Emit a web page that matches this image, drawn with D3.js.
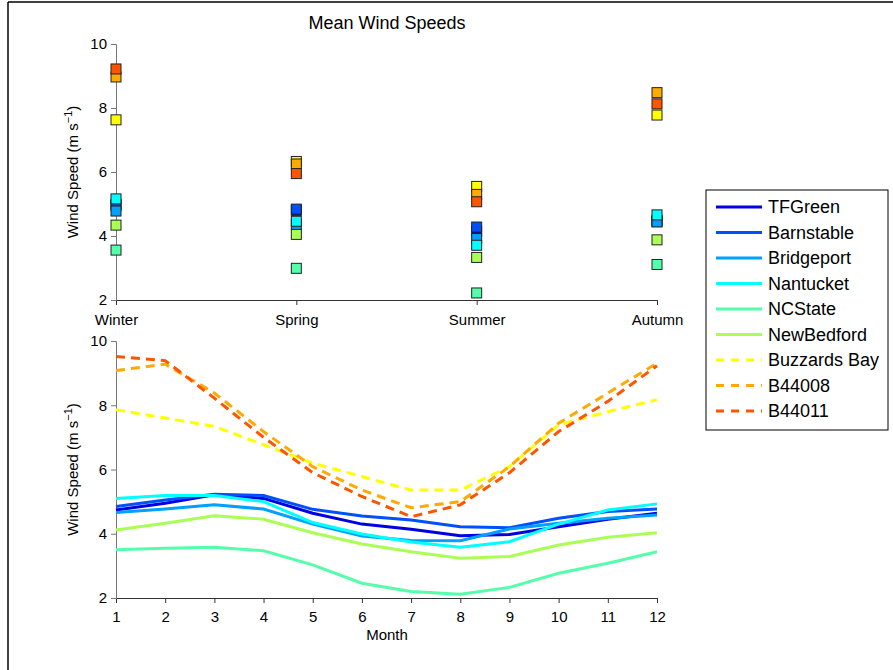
<!DOCTYPE html>
<html>
<head>
<meta charset="utf-8">
<script src="https://cdn.jsdelivr.net/npm/d3@7"></script>
<style>
  html, body { margin: 0; padding: 0; background: #fff; }
  svg { display: block; font-family: "Liberation Sans", Arial, Helvetica, sans-serif; }
</style>
</head>
<body>
<svg id="chart" width="893" height="670"></svg>
<script>
// Station names, colours and line styles
const stations = ["TFGreen", "Barnstable", "Bridgeport", "Nantucket", "NCState", "NewBedford", "Buzzards Bay", "B44008", "B44011"];
const colors = ["#0000e0", "#0050ff", "#00a0ff", "#00ffff", "#55ffaa", "#aaff55", "#ffff00", "#ffaa00", "#ff5500"];
const dashed = [false, false, false, false, false, false, true, true, true];

// Seasonal means (m/s), one array per station: Winter, Spring, Summer, Autumn
const seasons = ["Winter", "Spring", "Summer", "Autumn"];
const seasonTFGreen    = [4.95, 4.80, 4.15, 4.45];
const seasonBarnstable = [5.00, 4.84, 4.28, 4.50];
const seasonBridgeport = [4.78, 4.36, 3.92, 4.44];
const seasonNantucket  = [5.16, 4.46, 3.71, 4.66];
const seasonNCState    = [3.56, 2.99, 2.22, 3.11];
const seasonNewBedford = [4.34, 4.05, 3.33, 3.88];
const seasonBuzzards   = [7.63, 6.33, 5.55, 7.78];
const seasonB44008     = [8.97, 6.25, 5.30, 8.48];
const seasonB44011     = [9.22, 5.95, 5.07, 8.13];
const seasonal = [seasonTFGreen, seasonBarnstable, seasonBridgeport, seasonNantucket,
                  seasonNCState, seasonNewBedford, seasonBuzzards, seasonB44008, seasonB44011];

// Monthly means (m/s), months 1..12
const months = [1, 2, 3, 4, 5, 6, 7, 8, 9, 10, 11, 12];
const monthTFGreen    = [4.74, 4.95, 5.21, 5.10, 4.64, 4.30, 4.14, 3.94, 3.98, 4.22, 4.45, 4.64];
const monthBarnstable = [4.85, 5.05, 5.23, 5.19, 4.76, 4.55, 4.43, 4.22, 4.19, 4.48, 4.69, 4.77];
const monthBridgeport = [4.66, 4.77, 4.90, 4.77, 4.30, 3.93, 3.79, 3.78, 4.15, 4.33, 4.48, 4.58];
const monthNantucket  = [5.10, 5.19, 5.19, 5.00, 4.35, 3.99, 3.74, 3.58, 3.75, 4.30, 4.74, 4.93];
const monthNCState    = [3.50, 3.55, 3.58, 3.47, 3.03, 2.46, 2.20, 2.12, 2.33, 2.77, 3.08, 3.44];
const monthNewBedford = [4.12, 4.33, 4.56, 4.45, 4.03, 3.68, 3.44, 3.24, 3.29, 3.65, 3.89, 4.03];
const monthBuzzards   = [7.86, 7.60, 7.34, 6.77, 6.20, 5.78, 5.36, 5.36, 6.09, 7.39, 7.80, 8.17];
const monthB44008     = [9.08, 9.28, 8.38, 7.18, 6.09, 5.36, 4.81, 5.00, 6.09, 7.44, 8.38, 9.31];
const monthB44011     = [9.52, 9.39, 8.22, 7.00, 5.90, 5.16, 4.53, 4.90, 5.90, 7.18, 8.12, 9.23];
const monthly = [monthTFGreen, monthBarnstable, monthBridgeport, monthNantucket,
                 monthNCState, monthNewBedford, monthBuzzards, monthB44008, monthB44011];

const yTicks = [2, 4, 6, 8, 10];

const svg = d3.select("#chart");

// Figure frame (top and left edges)
svg.append("line").attr("x1", 8).attr("x2", 893).attr("y1", 2).attr("y2", 2)
  .attr("stroke", "#000").attr("stroke-width", 1.5);
svg.append("line").attr("x1", 8).attr("x2", 8).attr("y1", 2).attr("y2", 670)
  .attr("stroke", "#000").attr("stroke-width", 1.5);

const left = 116, right = 657;

function styleAxis(g, lineColor) {
  g.selectAll("path").attr("stroke", lineColor).attr("stroke-width", 1);
  g.selectAll("line").attr("stroke", lineColor);
  g.selectAll("text").attr("fill", "#000").attr("font-size", 15)
    .attr("font-family", "'Liberation Sans', Arial, sans-serif");
}

function yLabel(cy) {
  const t = svg.append("text")
    .attr("transform", `translate(78,${cy}) rotate(-90)`)
    .attr("text-anchor", "middle")
    .attr("font-size", 15);
  t.append("tspan").text("Wind Speed (m s");
  t.append("tspan").attr("dy", -6).attr("font-size", 11).text("−1");
  t.append("tspan").attr("dy", 6).text(")");
}

// ---------- Top panel: seasonal means ----------
const topY0 = 300, topY1 = 44;
const xS = d3.scalePoint().domain(seasons).range([left, right]);
const yT = d3.scaleLinear().domain([2, 10]).range([topY0, topY1]);

const gxT = svg.append("g").attr("transform", `translate(0,${topY0})`)
  .call(d3.axisBottom(xS).tickSizeOuter(0).tickSize(5).tickPadding(9));
styleAxis(gxT, "#333");
const gyT = svg.append("g").attr("transform", `translate(${left},0)`)
  .call(d3.axisLeft(yT).tickValues(yTicks).tickSizeOuter(0).tickSize(5).tickPadding(4));
styleAxis(gyT, "#777");

svg.append("text").attr("x", 387).attr("y", 29).attr("text-anchor", "middle")
  .attr("font-size", 18).text("Mean Wind Speeds");
yLabel((topY0 + topY1) / 2);

const sq = 10;
seasonal.forEach((vals, i) => {
  svg.append("g").selectAll("rect").data(vals).join("rect")
    .attr("x", (d, j) => xS(seasons[j]) - sq / 2)
    .attr("y", d => yT(d) - sq / 2)
    .attr("width", sq).attr("height", sq)
    .attr("fill", colors[i])
    .attr("stroke", "#222").attr("stroke-width", 1);
});

// ---------- Bottom panel: monthly means ----------
const botY0 = 598, botY1 = 341;
const xM = d3.scaleLinear().domain([1, 12]).range([left, right]);
const yB = d3.scaleLinear().domain([2, 10]).range([botY0, botY1]);

const gxB = svg.append("g").attr("transform", `translate(0,${botY0})`)
  .call(d3.axisBottom(xM).tickValues(months).tickFormat(d3.format("d"))
    .tickSizeOuter(0).tickSize(5).tickPadding(8));
styleAxis(gxB, "#333");
const gyB = svg.append("g").attr("transform", `translate(${left},0)`)
  .call(d3.axisLeft(yB).tickValues(yTicks).tickSizeOuter(0).tickSize(5).tickPadding(4));
styleAxis(gyB, "#777");

svg.append("text").attr("x", 387).attr("y", 640).attr("text-anchor", "middle")
  .attr("font-size", 15).text("Month");
yLabel((botY0 + botY1) / 2);

const line = d3.line().x((d, j) => xM(months[j])).y(d => yB(d));
monthly.forEach((vals, i) => {
  svg.append("path").datum(vals)
    .attr("d", line)
    .attr("fill", "none")
    .attr("stroke", colors[i])
    .attr("stroke-width", 3)
    .attr("stroke-dasharray", dashed[i] ? "9,6" : null);
});

// ---------- Legend ----------
const lg = svg.append("g").attr("transform", "translate(706,190)");
lg.append("rect").attr("x", 0).attr("y", 0).attr("width", 182).attr("height", 240)
  .attr("fill", "#fff").attr("stroke", "#000").attr("stroke-width", 1);
const rowY = d3.scaleLinear().domain([0, stations.length - 1]).range([17, 221]);
stations.forEach((name, i) => {
  lg.append("line").attr("x1", 10).attr("x2", 56)
    .attr("y1", rowY(i)).attr("y2", rowY(i))
    .attr("stroke", colors[i]).attr("stroke-width", 3)
    .attr("stroke-dasharray", dashed[i] ? "8,7" : null);
  lg.append("text").attr("x", 62).attr("y", rowY(i)).attr("dy", "0.36em")
    .attr("font-size", 18).text(name);
});
</script>
</body>
</html>
